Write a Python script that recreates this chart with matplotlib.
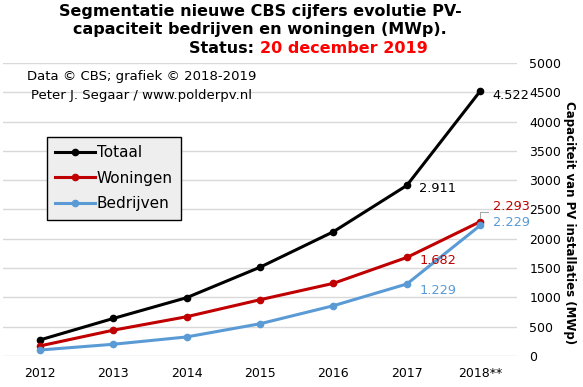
import numpy as np
import matplotlib.pyplot as plt

# data (MWp)
jaren = ["2012", "2013", "2014", "2015", "2016", "2017", "2018**"]
totaal = [273, 640, 995, 1515, 2121, 2911, 4522]
woningen = [171, 440, 670, 960, 1240, 1682, 2293]
bedrijven = [102, 200, 325, 550, 858, 1229, 2229]

labels_tot = {5: "2.911", 6: "4.522"}
labels_won = {5: "1.682", 6: "2.293"}
labels_bed = {5: "1.229", 6: "2.229"}

ZWART = "#000000"
ROOD = "#c00000"
BLAUW = "#5b9bd5"

fig = plt.figure(figsize=(5.83, 3.87), dpi=100)
ax = fig.add_axes([3/583, 31/387, 514/583, 293/387])
x = np.arange(len(jaren))

ax.plot(x, totaal, color=ZWART, lw=2.2, marker="o", ms=4.5, label="Totaal")
ax.plot(x, woningen, color=ROOD, lw=2.2, marker="o", ms=4.5, label="Woningen")
ax.plot(x, bedrijven, color=BLAUW, lw=2.2, marker="o", ms=4.5, label="Bedrijven")

ax.set_xlim(-0.5, len(jaren) - 0.5)
ax.set_ylim(0, 5000)
ax.set_yticks(np.arange(0, 5001, 500))
ax.set_xticks(x)
ax.set_xticklabels(jaren)
ax.yaxis.tick_right()
ax.tick_params(axis="both", length=0, labelsize=9)
ax.tick_params(axis="y", pad=9)
ax.tick_params(axis="x", pad=8)
ax.grid(axis="y", color="#d9d9d9", lw=1)
ax.set_axisbelow(True)
for s in ax.spines.values():
    s.set_visible(False)
# as-titel iets lager dan het midden, zoals in het origineel
fig.text(0.977, 0.426, "Capaciteit van PV installaties (MWp)", rotation=-90, fontsize=8.5,
         fontweight="bold", ha="center", va="center")

# data labels
for i, t in labels_tot.items():
    ax.annotate(t, (x[i], totaal[i]), xytext=(9, -3 if i == 6 else -2),
                textcoords="offset points", fontsize=9.3, color=ZWART, va="center")
for i, t in labels_won.items():
    ax.annotate(t, (x[i], woningen[i]), xytext=(9, -2 if i == 5 else 11),
                textcoords="offset points", fontsize=9.3, color=ROOD, va="center")
for i, t in labels_bed.items():
    ax.annotate(t, (x[i], bedrijven[i]), xytext=(9, -5 if i == 5 else 2),
                textcoords="offset points", fontsize=9.3, color=BLAUW, va="center")
# klein verbindingslijntje bij 2.293
ax.plot([x[6], x[6], x[6] + 0.1], [woningen[6] + 60, woningen[6] + 170, woningen[6] + 170],
        color="#a6a6a6", lw=0.8)

leg = ax.legend(loc="upper left", bbox_to_anchor=(44/514, (356-137)/293),
                fontsize=11, frameon=True, fancybox=False, borderpad=0.55,
                handlelength=2.6, handletextpad=0.1, labelspacing=0.68,
                borderaxespad=0)
leg.get_frame().set_facecolor("#eeeeee")
leg.get_frame().set_edgecolor("black")
leg.get_frame().set_linewidth(1)
leg.get_frame().set_alpha(1)

fig.text(0.446, 0.99, "Segmentatie nieuwe CBS cijfers evolutie PV-\ncapaciteit bedrijven en woningen (MWp).",
         ha="center", va="top", fontsize=11.5, fontweight="bold", linespacing=1.3)
fig.text(0.446, 0.893, "Status: ", ha="right", va="top", fontsize=11.5, fontweight="bold")
fig.text(0.446, 0.893, "20 december 2019", ha="left", va="top", fontsize=11.5,
         fontweight="bold", color="red")
fig.text(0.243, 0.803, "Data \u00a9 CBS; grafiek \u00a9 2018-2019", ha="center", va="center", fontsize=9.5)
fig.text(0.243, 0.754, "Peter J. Segaar / www.polderpv.nl", ha="center", va="center", fontsize=9.5)

fig.savefig("out.png", dpi=100)
